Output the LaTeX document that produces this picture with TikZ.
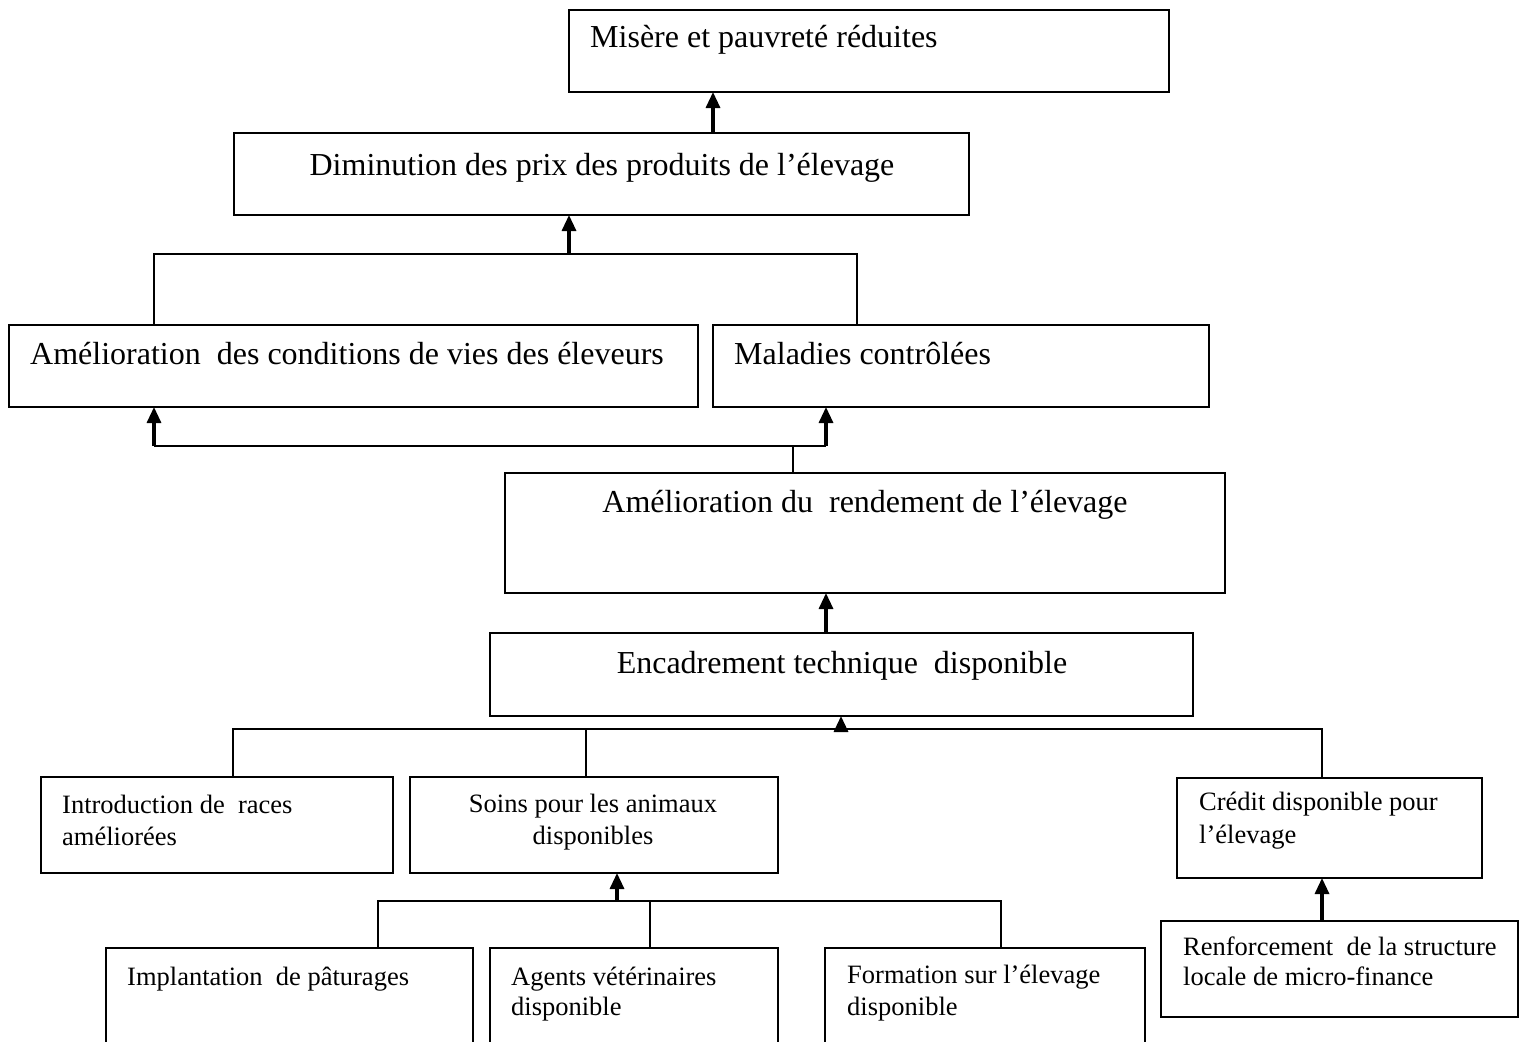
\documentclass[tikz,border=0pt]{standalone}
\usepackage{fontspec}
\setmainfont{Liberation Serif}
\usetikzlibrary{arrows.meta}
\begin{document}
\begin{tikzpicture}[x=1pt,y=-1pt,
  box/.style={draw=black,line width=1.7pt,rectangle,inner sep=0pt,outer sep=0pt,anchor=north west},
  ln/.style={draw=black,line width=1.7pt},
  arr/.style={draw=black,line width=3.2pt,-{Triangle[width=14pt,length=16pt]}},
  big/.style={inner sep=0pt,font=\fontsize{32}{36}\selectfont},
  small/.style={inner sep=0pt,font=\fontsize{26.5}{31}\selectfont}]
\clip (0,0) rectangle (1520,1041);
\fill[white] (0,0) rectangle (1520,1041);
% boxes
\node[box,minimum width=600pt,minimum height=82pt] (b1) at (569,10) {};
\node[box,minimum width=735pt,minimum height=82pt] (b2) at (234,133) {};
\node[box,minimum width=689pt,minimum height=82pt] (b3) at (9,325) {};
\node[box,minimum width=496pt,minimum height=82pt] (b4) at (713,325) {};
\node[box,minimum width=720pt,minimum height=120pt] (b5) at (505,473) {};
\node[box,minimum width=703pt,minimum height=83pt] (b6) at (490,633) {};
\node[box,minimum width=352pt,minimum height=96pt] (b7) at (41,777) {};
\node[box,minimum width=368pt,minimum height=96pt] (b8) at (410,777) {};
\node[box,minimum width=305pt,minimum height=100pt] (b9) at (1177,778) {};
\node[box,minimum width=357pt,minimum height=96pt] (b10) at (1161,921) {};
\node[box,minimum width=367pt,minimum height=112pt] (b11) at (106,948) {};
\node[box,minimum width=288pt,minimum height=112pt] (b12) at (490,948) {};
\node[box,minimum width=320pt,minimum height=112pt] (b13) at (825,948) {};
% texts
\node[big,anchor=base west] (t1) at (590,48) {Misère et pauvreté réduites};
\node[big,anchor=base] (t2) at (602,175) {Diminution des prix des produits de l’élevage};
\node[big,anchor=base west] (t3) at (30,364) {Amélioration\ \ des conditions de vies des éleveurs};
\node[big,anchor=base west] (t4) at (734,364) {Maladies contrôlées};
\node[big,anchor=base] (t5) at (865,512) {Amélioration du\ \ rendement de l’élevage};
\node[big,anchor=base] (t6) at (842,673) {Encadrement technique\ \ disponible};
\node[small,anchor=base west] (t7a) at (62,813) {Introduction de\ \ races};
\node[small,anchor=base west] (t7b) at (62,845) {améliorées};
\node[small,anchor=base] (t8a) at (593,812) {Soins pour les animaux};
\node[small,anchor=base] (t8b) at (593,844) {disponibles};
\node[small,anchor=base west] (t9a) at (1199,810) {Crédit disponible pour};
\node[small,anchor=base west] (t9b) at (1199,843) {l’élevage};
\node[small,anchor=base west] (t10a) at (1183,955) {Renforcement\ \ de la structure};
\node[small,anchor=base west] (t10b) at (1183,985) {locale de micro-finance};
\node[small,anchor=base west] (t11) at (127,985) {Implantation\ \ de pâturages};
\node[small,anchor=base west] (t12a) at (511,985) {Agents vétérinaires};
\node[small,anchor=base west] (t12b) at (511,1015) {disponible};
\node[small,anchor=base west] (t13a) at (847,983) {Formation sur l’élevage};
\node[small,anchor=base west] (t13b) at (847,1015) {disponible};
% connectors
\coordinate (c1) at (713,133);
\draw[arr] (c1) -- (c1 |- b1.south);
\coordinate (j2) at (569,254);
\coordinate (l3) at (154,254);
\coordinate (r4) at (857,254);
\draw[ln] (l3 |- b3.north) -- (l3) -- (r4) -- (r4 |- b4.north);
\draw[arr] (j2) -- (j2 |- b2.south);
\coordinate (p3) at (154,446);
\coordinate (p4) at (826,446);
\coordinate (p5) at (793,446);
\draw[ln] (p3) -- (p4);
\draw[ln] (p5) -- (p5 |- b5.north);
\draw[arr] (p3) -- (p3 |- b3.south);
\draw[arr] (p4) -- (p4 |- b4.south);
\coordinate (c6) at (826,633);
\draw[arr] (c6) -- (c6 |- b5.south);
\coordinate (j6) at (841,729);
\coordinate (q7) at (233,729);
\coordinate (q8) at (586,729);
\coordinate (q9) at (1322,729);
\draw[ln] (q7 |- b7.north) -- (q7) -- (q9) -- (q9 |- b9.north);
\draw[ln] (q8) -- (q8 |- b8.north);
\draw[arr] (j6) -- (j6 |- b6.south);
\coordinate (j8) at (617,901);
\coordinate (r11) at (378,901);
\coordinate (r12) at (650,901);
\coordinate (r13) at (1001,901);
\draw[ln] (r11 |- b11.north) -- (r11) -- (r13) -- (r13 |- b13.north);
\draw[ln] (r12) -- (r12 |- b12.north);
\draw[arr] (j8) -- (j8 |- b8.south);
\coordinate (c10) at (1322,921);
\draw[arr] (c10) -- (c10 |- b9.south);
\end{tikzpicture}
\end{document}
